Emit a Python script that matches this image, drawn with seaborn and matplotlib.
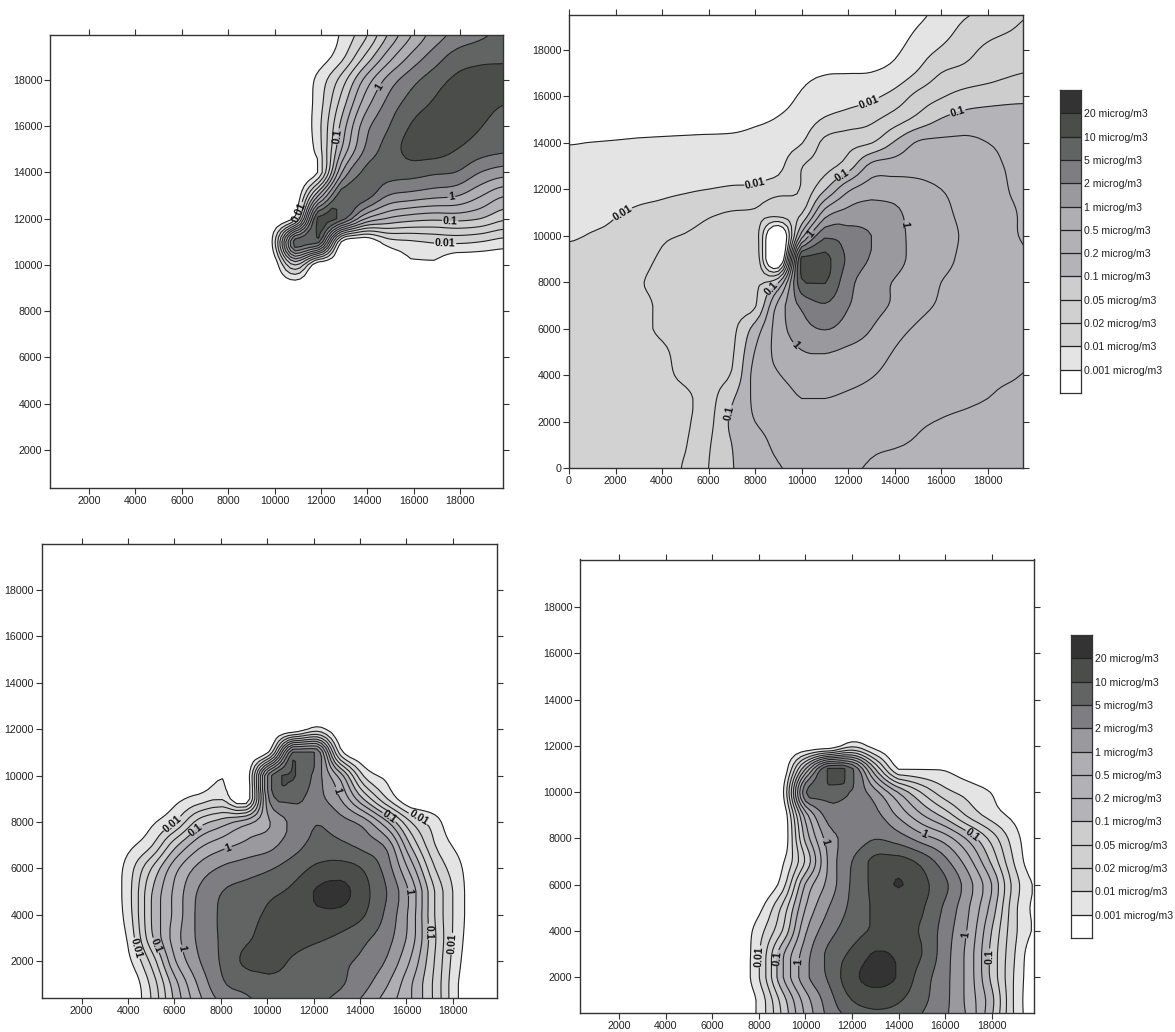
"""Four dispersion maps with contour bands and two concentration legends."""

import numpy as np
import matplotlib
matplotlib.use('Agg')
import matplotlib.pyplot as plt
from matplotlib.colors import ListedColormap
import seaborn as sns

sns.set_style('white')
plt.rcParams['font.family'] = ['Liberation Sans', 'DejaVu Sans']

W, H = 1175, 1032

# band position of each contour: 0 = 0.001, 1 = 0.01 ... 11 = 20 microg/m3
CONC_LABELS = ['20', '10', '5', '2', '1', '0.5', '0.2', '0.1', '0.05', '0.02', '0.01', '0.001']
LEVELS = [-5, 0, 1, 2, 3, 4, 5, 6, 7, 8, 9, 10, 11, 14]
BAND_COLORS = ['#ffffff', '#e4e4e4', '#d2d2d2', '#d0d0d0', '#cdcdcd', '#b4b4b8', '#b2b2b6',
               '#afafb3', '#9a9a9e', '#7e7e82', '#626463', '#4b4d4b', '#333333']
LINE_NAMES = {1: '0.01', 4: '0.1', 7: '1'}

P1_X = [8897, 9893, 10889, 11884, 12880, 13876, 14871, 15867, 16863, 17858, 18854, 19850]
P1_Y = [9000, 10000, 11000, 12000, 13000, 14000, 15000, 16000, 17000, 18000, 19000, 20000]
P1_Z = [
    [-1, -1, -1, -1, -1, -1, -1, -1, -1, -1, -1, -1],
    [-1, -1, 3, -1, -1, -1, -1, -.2, -.2, -1, -1, -1],
    [-1, 0, 9.6, 9.3, -.05, -1, .5, .85, 1.1, 1.2, 1, .6],
    [-1, -1, .5, 10.3, 9.5, 6.1, 4.9, 4.4, 4.2, 4.3, 4, 3.2],
    [-1, -1, -1, 5, 9.6, 9.5, 8, 7.6, 7.3, 7.05, 6.1, 5.1],
    [-1, -1, -1, .1, 6.9, 9.2, 9.4, 9.4, 9.15, 8.95, 8, 7.45],
    [-1, -1, -1, .5, 5, 8.05, 9.4, 10.3, 10.4, 10, 9.5, 9.2],
    [-1, -1, -1, .65, 4.3, 7.5, 8.9, 10.05, 10.5, 10.4, 10.05, 9.5],
    [-1, -1, -1, .5, 3.4, 6.4, 8.25, 9.4, 10.1, 10.6, 10.4, 10.05],
    [-1, -1, -1, .3, 2.4, 5.2, 7.3, 8.6, 9.5, 10.2, 10.4, 10.5],
    [-1, -1, -1, -.6, .7, 3.1, 5.45, 7.2, 8.45, 9.4, 9.7, 9.75],
    [-1, -1, -1, -1, .13, 1.7, 4, 5.9, 7.4, 8.3, 8.8, 9.2],
]

P2_X = list(range(0, 20001, 1000))
P2_Y = list(range(0, 20001, 1000))
P2_Z = [
    [1.5, 1.5, 1.5, 1.5, 1.7, 2.1, 3, 3.95, 4.4, 4.95, 5.1, 5.15, 5.05, 4.95, 4.7, 4.5, 4.35, 4.25, 4.2, 4.15, 4.1],
    [1.55, 1.55, 1.5, 1.5, 1.6, 1.95, 2.9, 4, 4.6, 5.2, 5.35, 5.3, 5.2, 5.1, 5.05, 4.9, 4.7, 4.5, 4.35, 4.3, 4.2],
    [1.6, 1.6, 1.55, 1.55, 1.6, 1.85, 2.7, 4.2, 5, 5.35, 5.55, 5.55, 5.45, 5.35, 5.25, 5.1, 4.95, 4.75, 4.5, 4.35, 4.25],
    [1.6, 1.6, 1.6, 1.6, 1.65, 1.8, 2.6, 3.85, 5.2, 5.55, 6, 6, 5.85, 5.7, 5.55, 5.45, 5.3, 5.2, 5, 4.7, 4.45],
    [1.6, 1.6, 1.6, 1.65, 1.8, 2.2, 2.6, 3.1, 5.35, 5.95, 6.4, 6.5, 6.3, 6.05, 5.7, 5.5, 5.4, 5.3, 5.2, 5.1, 4.85],
    [1.6, 1.6, 1.65, 1.75, 1.9, 2.25, 2.45, 2.85, 5.05, 6.3, 6.95, 7.05, 6.8, 6.5, 5.95, 5.7, 5.6, 5.55, 5.45, 5.3, 5.2],
    [1.6, 1.65, 1.7, 1.85, 2.1, 2.3, 2.55, 2.75, 4.4, 6.5, 7.6, 8.05, 7.6, 7, 6.3, 5.9, 5.7, 5.6, 5.45, 5.35, 5.25],
    [1.6, 1.65, 1.75, 1.85, 2.1, 2.25, 2.4, 2.6, 2.9, 6.3, 8.2, 8.9, 8.05, 7.4, 6.85, 6.25, 5.9, 5.65, 5.5, 5.35, 5.25],
    [1.5, 1.55, 1.7, 1.95, 2.15, 2.3, 2.5, 2.65, 2.85, 3.9, 9.8, 10.05, 8.35, 7.4, 6.95, 6.55, 6, 5.7, 5.45, 5.3, 5.2],
    [1.3, 1.4, 1.5, 1.75, 2.1, 2.3, 2.5, 2.7, 2.85, -2, 10.3, 10.3, 8.8, 7.9, 7.3, 6.7, 6.3, 5.8, 5.5, 5.25, 5],
    [.9, 1.05, 1.15, 1.35, 1.85, 2.05, 2.3, 2.4, 2.6, -2, 5.5, 8.8, 8.4, 8, 7.4, 6.6, 6.3, 5.9, 5.5, 5.1, 4.85],
    [.67, .78, .95, 1.1, 1.25, 1.5, 1.85, 2.05, 2.15, 2.6, 2.9, 6.4, 7.3, 7.5, 7.2, 6.5, 6.2, 5.8, 5.5, 5.1, 4.75],
    [.43, .52, .64, .75, .83, .9, 1, 1.1, 1.15, 1.5, 2.1, 3.9, 5.8, 6.5, 6.5, 6.3, 6, 5.7, 5.5, 4.95, 4.7],
    [.21, .26, .34, .37, .48, .53, .59, .66, .7, .77, 1.95, 2.6, 3.5, 5.3, 5.5, 5.6, 5.5, 5.4, 5.2, 4.9, 4.6],
    [-.05, .02, .1, .2, .3, .4, .5, .5, .6, .6, .95, 2.25, 2.65, 2.95, 4.1, 5.1, 5.2, 5.2, 5, 4.8, 4.6],
    [-1, -1, -1, -1, -1, -1, -1, -.8, -.3, .08, .45, 1.1, 1.45, 1.8, 2.5, 3.3, 4.05, 4.4, 4.5, 4.5, 4.5],
    [-1, -1, -1, -1, -1, -1, -1, -1, -1, -.5, .1, .33, .55, .8, 1.35, 2.3, 2.9, 3.35, 3.55, 3.7, 3.75],
    [-1, -1, -1, -1, -1, -1, -1, -1, -1, -1, -.3, -.05, -.02, .02, .35, 1.1, 2, 2.3, 2.6, 2.9, 3.05],
    [-1, -1, -1, -1, -1, -1, -1, -1, -1, -1, -1, -1, -1, -.6, -.2, .5, 1.1, 1.65, 2.2, 2.5, 2.7],
    [-1, -1, -1, -1, -1, -1, -1, -1, -1, -1, -1, -1, -1, -1, -.6, 0, .55, 1.15, 1.55, 1.9, 2.3],
    [-1, -1, -1, -1, -1, -1, -1, -1, -1, -1, -1, -1, -1, -1, -1, -.5, .3, .7, 1, 1.5, 1.8],
]

P3_X = [2976, 3982, 5002, 6022, 7042, 8063, 9083, 10089, 11109, 12130, 13150, 14170, 15176, 16196, 17216, 18236, 19257]
P3_Y = list(range(0, 13001, 1000))
P3_Z = [
    [-1, -1, 1, 4.2, 6.55, 8.07, 8.7, 9.1, 9.2, 9.1, 8.5, 7.6, 6.3, 5.05, 2.8, 0, -1],
    [-1, -1, 1.25, 4.6, 7.15, 8.85, 9.3, 9.7, 9.6, 9.4, 9.1, 8.3, 7.05, 5.1, 2.75, 0, -1],
    [-1, -.3, 2.3, 5.9, 7.9, 9.15, 10.2, 10.3, 9.9, 9.5, 9.2, 8.75, 7.85, 5.85, 2.95, .2, -1],
    [-1, .1, 3.75, 6.5, 8.2, 9.15, 9.85, 10.3, 10.3, 10.15, 9.8, 9.2, 8.35, 6.5, 3.15, .4, -1],
    [-1, .45, 4, 6.3, 8.25, 9.15, 9.65, 10.15, 10.4, 10.8, 10.7, 10.05, 8.7, 6.6, 3, .5, -1],
    [-1, .55, 3.9, 6.25, 8.1, 9, 9.4, 9.8, 10.2, 11.1, 11.35, 10.3, 8.95, 6.7, 3, .5, -1],
    [-1, .4, 3, 5.65, 7.3, 8.15, 8.5, 8.9, 9.5, 10.2, 10.4, 9.9, 8.45, 5.55, 2.05, .25, -1],
    [-1, -.3, .9, 3.7, 5.7, 6.65, 7.25, 7.7, 8.6, 9.3, 9.2, 8.65, 7.65, 3.9, 1.05, -.3, -1],
    [-1, -1, -.2, 1, 3.4, 4.5, 5.55, 6.95, 8.3, 8.95, 8.4, 7.5, 5.1, 2, .45, -1, -1],
    [-1, -1, -1, -.3, .4, .9, -1, 8.1, 9.2, 8.4, 7, 3.9, 1, -1, -1, -1, -1],
    [-1, -1, -1, -1, -1, -.1, -1, 8.6, 10.05, 8.5, 5.5, .9, -.3, -1, -1, -1, -1],
    [-1, -1, -1, -1, -1, -1, -1, .2, 9.1, 8.9, .5, -1, -1, -1, -1, -1, -1],
    [-1, -1, -1, -1, -1, -1, -1, -1, -1, .4, -1, -1, -1, -1, -1, -1, -1],
    [-1, -1, -1, -1, -1, -1, -1, -1, -1, -1, -1, -1, -1, -1, -1, -1, -1],
]

P4_X = list(range(7000, 20001, 1000))
P4_Y = list(range(0, 13001, 1000))
P4_Z = [
    [-1, .3, 3.1, 6.1, 8.2, 9, 9.5, 9.4, 8.85, 8.1, 6.85, 4, .85, -1],
    [-1, .25, 3.45, 6.5, 8.55, 10, 10.4, 10.1, 9.25, 8.25, 6.65, 4.3, .8, -1],
    [-1, .95, 4.85, 7.7, 9.15, 10.7, 11.35, 10.9, 9.5, 8.3, 6.6, 3.75, .85, -1],
    [-1, .9, 4.75, 7.55, 9.25, 10.2, 11.1, 10.8, 10, 8.4, 6.6, 3.7, 1, -1],
    [-1, .55, 3, 6.85, 8.6, 9.55, 10.15, 10.2, 9.9, 8.5, 6.85, 4, 1.2, -.3],
    [-1, -.3, 2.2, 6, 8, 9.25, 10.15, 10.3, 10.1, 8.8, 7.1, 4.6, 1.25, -.4],
    [-1, -1, .5, 5.1, 7.35, 9.15, 10.3, 11.05, 10.3, 9.2, 7.4, 5, 1.5, -.3],
    [-1, -1, -.2, 3.15, 7.2, 9, 10.3, 10.4, 9.7, 8.3, 6.4, 3.8, .85, -1],
    [-1, -1, -1, 4.3, 7.5, 8.3, 8.95, 8.5, 7.5, 6.5, 4.75, 2.6, .4, -1],
    [-1, -1, -1, 5.5, 8.45, 8.6, 8.3, 6.8, 5.1, 3.6, 1.8, .55, -.3, -1],
    [-1, -1, -.4, 8.9, 9.4, 8.9, 7.3, 4.9, 2.9, 1.35, .6, -.05, -1, -1],
    [-1, -1, -1, 5, 10.2, 9.2, 4, -.05, -.05, -.1, -.6, -1, -1, -1],
    [-1, -1, -1, -1, -1, .7, -.5, -1, -1, -1, -1, -1, -1, -1],
    [-1, -1, -1, -1, -1, -1, -1, -1, -1, -1, -1, -1, -1, -1],
]

# where the line labels sit, per level
P1_NAMES = {1: [(10950, 12300), (17350, 10900)], 4: [(12750, 15550), (17560, 11800)],
            7: [(14760, 17560), (17630, 12880)]}
P2_NAMES = {1: [(2300, 10960), (8000, 12280), (13000, 15470)],
            4: [(11800, 12540), (16730, 15230), (8600, 7840), (7000, 2360)],
            7: [(14630, 10530), (9790, 5340), (10400, 10100)]}
P3_NAMES = {1: [(5950, 7870), (4585, 2620), (16555, 8230), (17760, 2765)],
            4: [(7000, 7580), (5376, 2766), (15360, 8370), (16940, 3270)],
            7: [(8320, 6860), (6550, 2600), (13200, 9420), (16125, 4990)]}
P4_NAMES = {1: [(8159, 2885)], 4: [(8946, 2813), (17280, 8290), (18000, 2885)],
            7: [(9906, 2640), (10693, 7812), (15233, 8433), (16894, 3850)]}

TICKS = list(range(2000, 18001, 2000))
TICKS_ZERO = list(range(0, 18001, 2000))


def px_axes(fig, left, top, right, bottom):
    return fig.add_axes([left / W, 1 - bottom / H, (right - left) / W, (bottom - top) / H])


def round_rows(z, n=5):
    """Rounds the corners of the contour drawing, the read values stay at the grid nodes."""
    t = (np.arange(n) / n)[:, None]
    out = []
    for row in z:
        p = np.concatenate([[row[0]], row, [row[-1]]])
        parts = []
        for i in range(1, len(p) - 2):
            a, b, c, d = p[i - 1], p[i], p[i + 1], p[i + 2]
            v = 0.5 * (2 * b + (c - a) * t + (2 * a - 5 * b + 4 * c - d) * t ** 2 + (3 * b - a - 3 * c + d) * t ** 3)
            parts.append(np.clip(v[:, 0], min(b, c), max(b, c)))
        parts.append([row[-1]])
        out.append(np.concatenate(parts))
    return np.array(out)


def draw_map(fig, box, xs, ys, z, xlim, ylim, ticks, names):
    ax = px_axes(fig, *box)
    grid = round_rows(round_rows(np.array(z, dtype=float)).T).T
    fine_x = np.interp(np.linspace(0, len(xs) - 1, grid.shape[1]), np.arange(len(xs)), xs)
    fine_y = np.interp(np.linspace(0, len(ys) - 1, grid.shape[0]), np.arange(len(ys)), ys)
    ax.contourf(fine_x, fine_y, grid, levels=LEVELS, colors=BAND_COLORS)
    plain = [lv for lv in LEVELS[1:-1] if lv not in names]
    ax.contour(fine_x, fine_y, grid, levels=plain, colors='#222222', linewidths=0.8)
    ax.set_xlim(xlim)
    ax.set_ylim(ylim)
    # labelled levels get their own contour set, clabel wants that with manual spots
    for level, spots in names.items():
        lines = ax.contour(fine_x, fine_y, grid, levels=[level], colors='#222222', linewidths=0.8)
        found = ax.clabel(lines, manual=spots, fmt={level: LINE_NAMES[level]},
                          fontsize=7.6, inline_spacing=1, colors='#111111')
        for t in found:
            t.set_fontweight('bold')
    ax.set_xticks(ticks)
    ax.set_yticks(ticks)
    ax.tick_params(axis='both', which='major', direction='out', length=4, width=0.8, color='#333333',
                   top=True, right=True, bottom=True, left=True, labelsize=7.7, labelcolor='#222222', pad=1.5)
    for side in ax.spines.values():
        side.set_visible(True)
        side.set_color('#333333')
        side.set_linewidth(1.0)
    return ax


def draw_legend(fig, left, top):
    ax = px_axes(fig, left, top, left + 21, top + 303)
    strip = np.arange(len(BAND_COLORS))[::-1].reshape(-1, 1)
    sns.heatmap(strip, ax=ax, cmap=ListedColormap(BAND_COLORS), cbar=False, xticklabels=False,
                linewidths=0.0, vmin=-0.5, vmax=len(BAND_COLORS) - 0.5)
    ax.set_yticks(np.arange(1, len(BAND_COLORS)))
    ax.set_yticklabels([f'{c} microg/m3' for c in CONC_LABELS], rotation=0, fontsize=7.6, color='#222222')
    ax.yaxis.tick_right()
    ax.tick_params(axis='y', length=0, pad=2.5)
    ax.hlines(np.arange(1, len(BAND_COLORS)), 0, 1, color='#222222', linewidth=0.9)
    for side in ax.spines.values():
        side.set_visible(True)
        side.set_color('#333333')
        side.set_linewidth(0.9)


fig = plt.figure(figsize=(W / 100, H / 100), dpi=100)

draw_map(fig, (50, 35.3, 503, 488), P1_X, P1_Y, P1_Z, (319, 19845), (357, 19930), TICKS, P1_NAMES)
draw_map(fig, (569, 14.7, 1023.3, 468.3), P2_X, P2_Y, P2_Z, (0, 19530), (0, 19500), TICKS_ZERO, P2_NAMES)
draw_map(fig, (41.7, 544, 496.7, 998.3), P3_X, P3_Y, P3_Z, (276, 19888), (405, 19980), TICKS, P3_NAMES)
draw_map(fig, (580, 559.5, 1034, 1013.3), P4_X, P4_Y, P4_Z, (310, 19820), (437, 20056), TICKS, P4_NAMES)

draw_legend(fig, 1060, 90)
draw_legend(fig, 1071, 635)

plt.savefig('out.png', dpi=100)
plt.close()
